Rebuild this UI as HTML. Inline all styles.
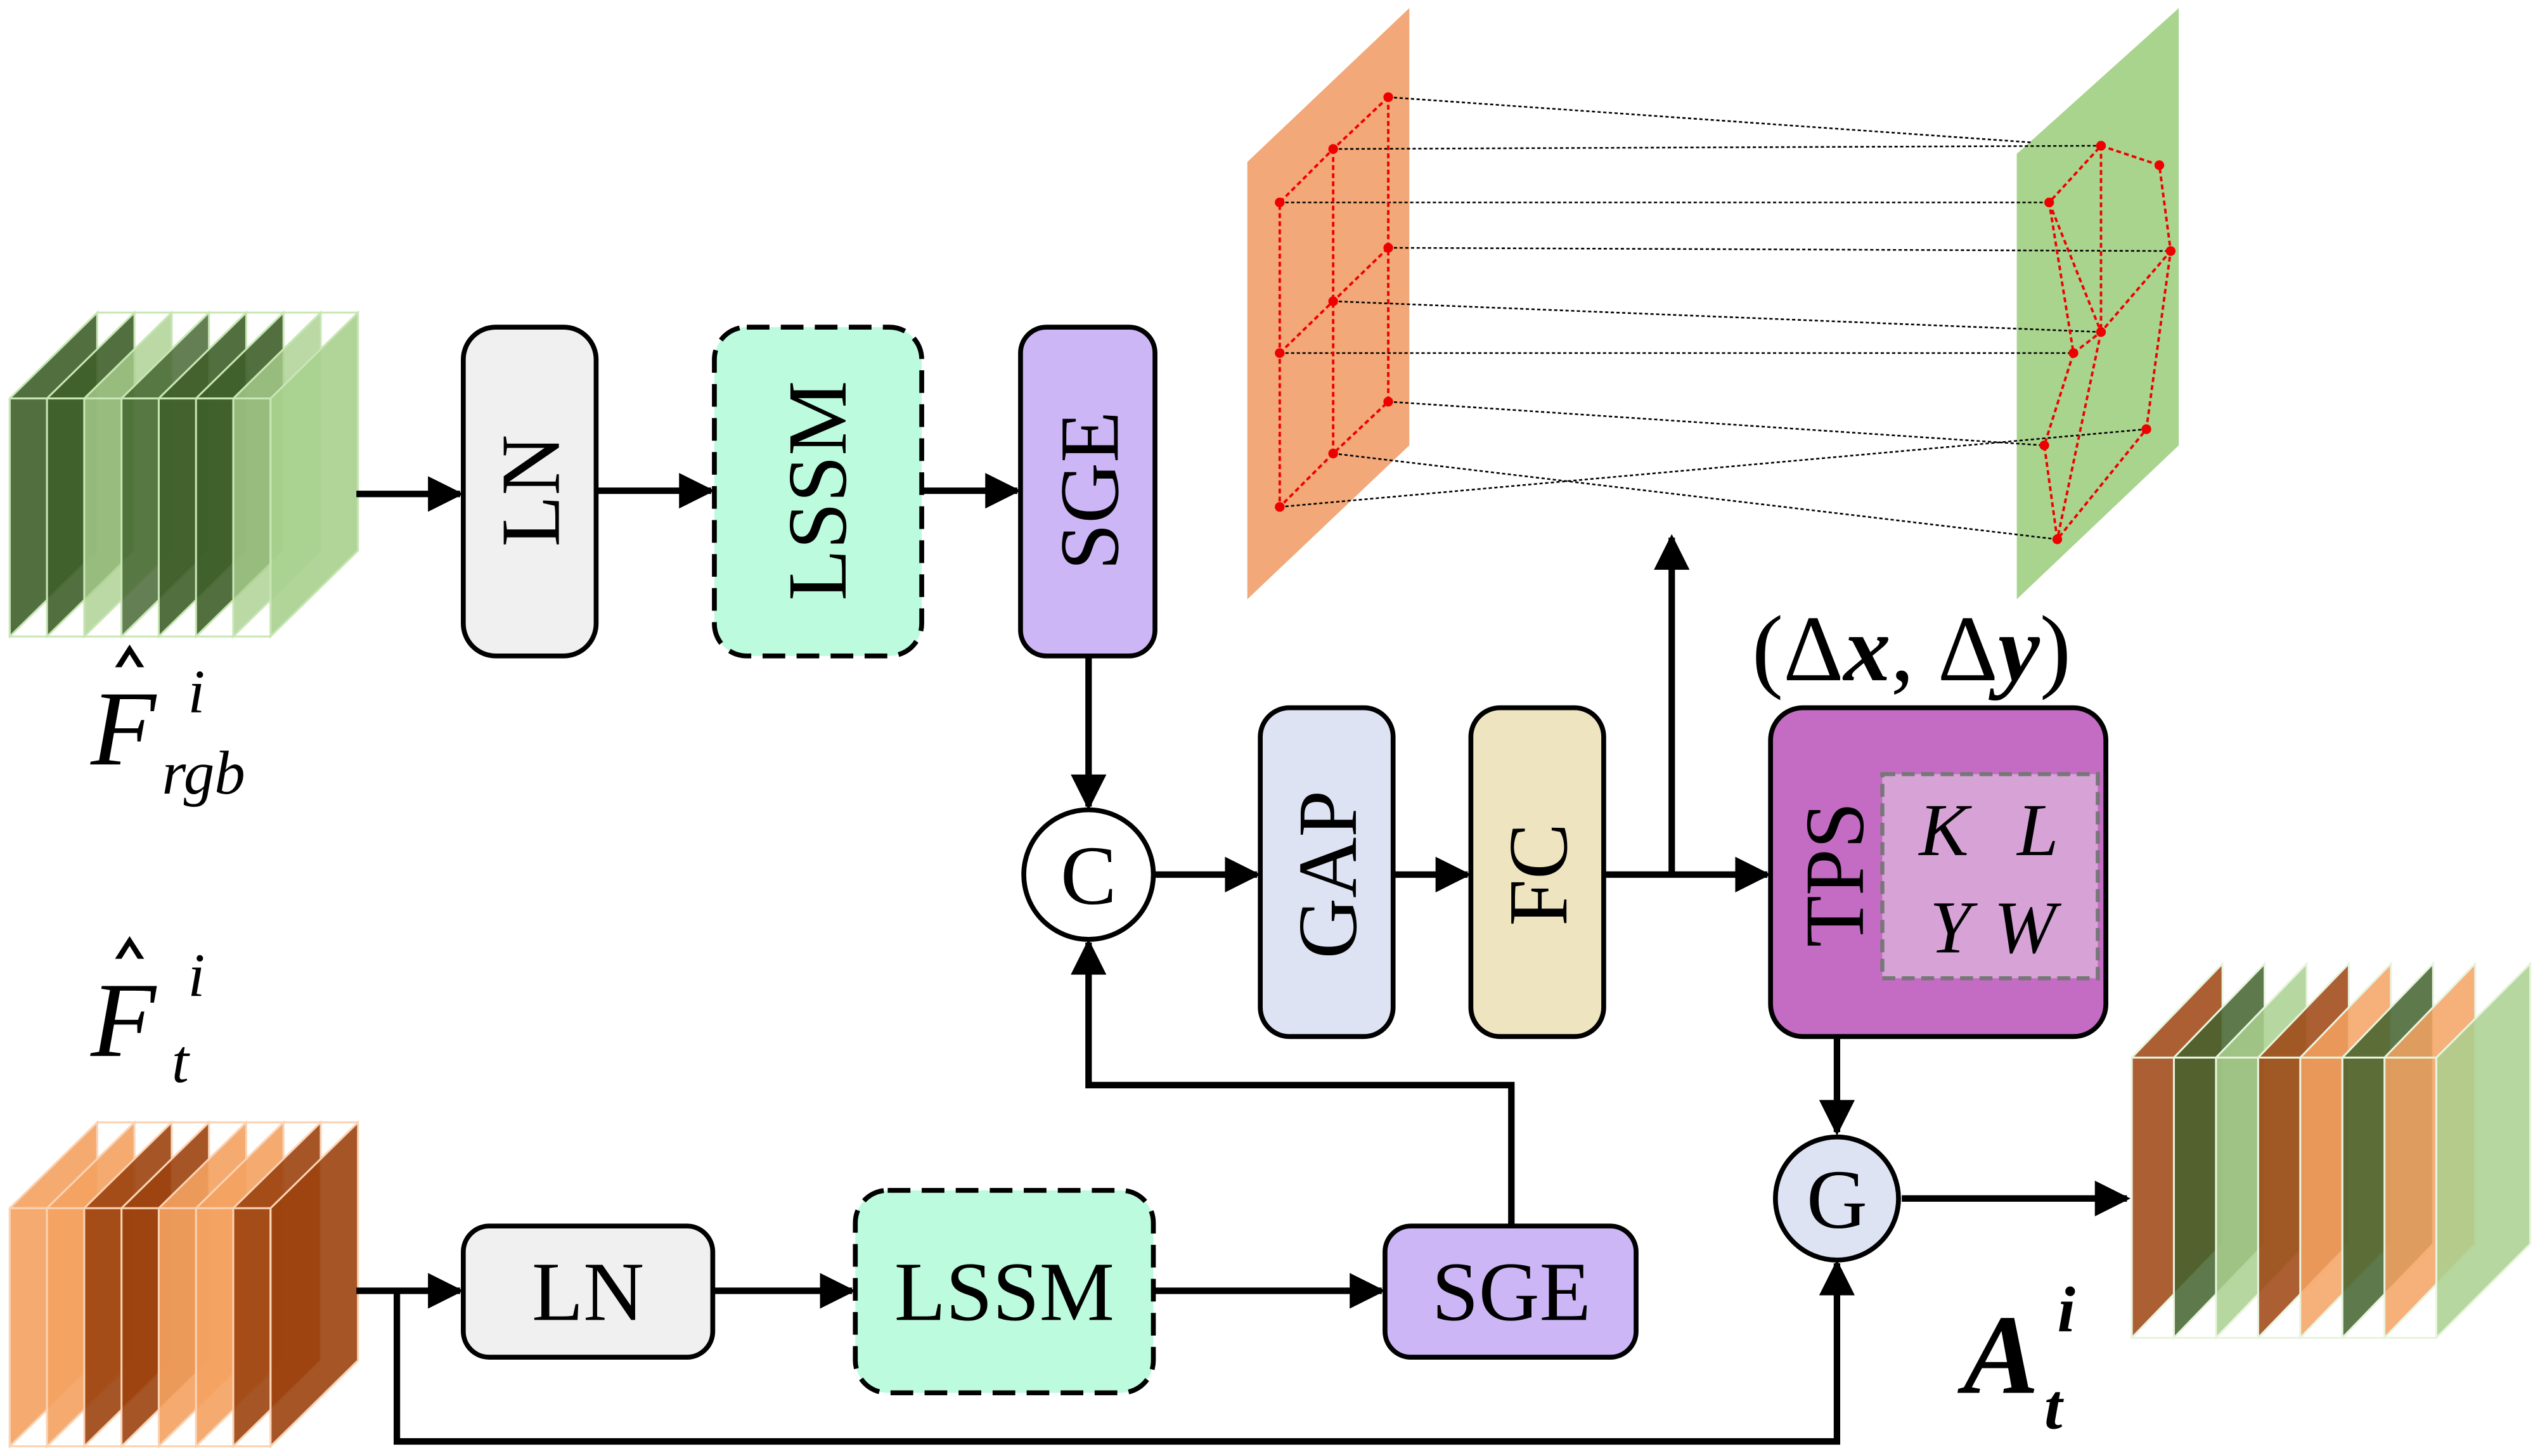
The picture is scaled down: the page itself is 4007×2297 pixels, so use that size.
<!DOCTYPE html>
<html><head><meta charset="utf-8"><style>html,body{margin:0;padding:0;background:#fff}svg{display:block}</style></head><body>
<svg width="4007" height="2297" viewBox="0 0 1568 899" preserveAspectRatio="none" xmlns="http://www.w3.org/2000/svg" font-family="Liberation Serif, serif">
<defs>
<marker id="a" viewBox="0 0 10 10" refX="9" refY="5" markerWidth="6" markerHeight="5.5" orient="auto" markerUnits="strokeWidth"><path d="M0,0L10,5L0,10z" fill="#000"/></marker>
</defs>
<g stroke="#c8e6b4" stroke-width="1.2" fill-opacity="0.9">
<polygon points="6,246 60,193 60,340 6,393" fill="#3f5f2a"/>
<polygon points="29,246 83,193 83,340 29,393" fill="#3f5f2a"/>
<polygon points="52,246 106,193 106,340 52,393" fill="#a9d08e" fill-opacity="0.8"/>
<polygon points="75,246 129,193 129,340 75,393" fill="#3f5f2a" fill-opacity="0.8"/>
<polygon points="98,246 152,193 152,340 98,393" fill="#3f5f2a"/>
<polygon points="121,246 175,193 175,340 121,393" fill="#3f5f2a"/>
<polygon points="144,246 198,193 198,340 144,393" fill="#a9d08e" fill-opacity="0.8"/>
<polygon points="167,246 221,193 221,340 167,393" fill="#a9d08e"/>
<polyline points="6,246 167,246 167,393 6,393 6,246" fill="none"/>
<line x1="60" y1="193" x2="221" y2="193"/>
</g>
<g stroke="#fbd3b4" stroke-width="1.2" fill-opacity="0.9">
<polygon points="6,746 60,693 60,840 6,893" fill="#f4a261"/>
<polygon points="29,746 83,693 83,840 29,893" fill="#f4a261"/>
<polygon points="52,746 106,693 106,840 52,893" fill="#9c430f"/>
<polygon points="75,746 129,693 129,840 75,893" fill="#9c430f"/>
<polygon points="98,746 152,693 152,840 98,893" fill="#f4a261"/>
<polygon points="121,746 175,693 175,840 121,893" fill="#f4a261"/>
<polygon points="144,746 198,693 198,840 144,893" fill="#9c430f"/>
<polygon points="167,746 221,693 221,840 167,893" fill="#9c430f"/>
<polyline points="6,746 167,746 167,893 6,893 6,746" fill="none"/>
<line x1="60" y1="693" x2="221" y2="693"/>
</g>
<g stroke="#e8f4de" stroke-width="1.2" fill-opacity="0.85">
<polygon points="1316,653 1372,595 1372,768 1316,826" fill="#9c430f"/>
<polygon points="1342,653 1398,595 1398,768 1342,826" fill="#42612d"/>
<polygon points="1368,653 1424,595 1424,768 1368,826" fill="#a9d08e"/>
<polygon points="1394,653 1450,595 1450,768 1394,826" fill="#9c430f"/>
<polygon points="1420,653 1476,595 1476,768 1420,826" fill="#f4a261"/>
<polygon points="1446,653 1502,595 1502,768 1446,826" fill="#42612d"/>
<polygon points="1472,653 1528,595 1528,768 1472,826" fill="#f4a261"/>
<polygon points="1504,653 1562,595 1562,768 1504,826" fill="#a9d08e"/>
<polyline points="1316,653 1504,653 1504,826 1316,826 1316,653" fill="none"/>
</g>
<text x="56" y="472" font-size="66" font-style="italic">F</text>
<path d="M71,412 L80,398 L89,412 L85,412 L80,404 L75,412z" fill="#000"/>
<text x="116" y="440" font-size="38" font-style="italic">i</text>
<text x="100" y="490" font-size="38" font-style="italic">rgb</text>
<text x="56" y="652" font-size="66" font-style="italic">F</text>
<path d="M71,592 L80,578 L89,592 L85,592 L80,584 L75,592z" fill="#000"/>
<text x="116" y="615" font-size="38" font-style="italic">i</text>
<text x="106" y="668" font-size="38" font-style="italic">t</text>
<text x="1212" y="860" font-size="70" font-style="italic" font-weight="bold">A</text>
<text x="1270" y="822" font-size="40" font-style="italic" font-weight="bold">i</text>
<text x="1262" y="882" font-size="40" font-style="italic" font-weight="bold">t</text>
<g stroke="#000" stroke-width="4" fill="none">
<line x1="220" y1="305" x2="284" y2="305" marker-end="url(#a)"/>
<line x1="369" y1="303" x2="439" y2="303" marker-end="url(#a)"/>
<line x1="570" y1="303" x2="628" y2="303" marker-end="url(#a)"/>
<line x1="672" y1="406" x2="672" y2="498" marker-end="url(#a)"/>
<line x1="713" y1="540" x2="776" y2="540" marker-end="url(#a)"/>
<line x1="861" y1="540" x2="906" y2="540" marker-end="url(#a)"/>
<line x1="991" y1="540" x2="1091" y2="540" marker-end="url(#a)"/>
<line x1="1032" y1="540" x2="1032" y2="332" marker-end="url(#a)"/>
<line x1="1134" y1="641" x2="1134" y2="699" marker-end="url(#a)"/>
<line x1="1174" y1="740" x2="1313" y2="740" marker-end="url(#a)"/>
<line x1="220" y1="797" x2="284" y2="797" marker-end="url(#a)"/>
<polyline points="245,797 245,890 1134,890 1134,780" marker-end="url(#a)"/>
<line x1="441" y1="797" x2="526" y2="797" marker-end="url(#a)"/>
<line x1="713" y1="797" x2="853" y2="797" marker-end="url(#a)"/>
<polyline points="933,757 933,670 672,670 672,582" marker-end="url(#a)"/>
</g>
<g stroke="#000" stroke-width="3">
<rect x="286" y="202" width="82" height="203" rx="20" fill="#f0f0f0"/>
<rect x="441" y="202" width="128" height="203" rx="20" fill="#bcfbdd" stroke-dasharray="14,7"/>
<rect x="630" y="202" width="83" height="203" rx="16" fill="#cdb6f6"/>
<circle cx="672" cy="540" r="40" fill="#fff"/>
<rect x="778" y="437" width="82" height="203" rx="18" fill="#dde3f3"/>
<rect x="908" y="437" width="82" height="203" rx="18" fill="#efe4c0"/>
<rect x="1093" y="437" width="207" height="203" rx="20" fill="#c46bc4"/>
<circle cx="1134" cy="740" r="38" fill="#dde3f3"/>
<rect x="286" y="757" width="154" height="81" rx="16" fill="#f0f0f0"/>
<rect x="528" y="735" width="184" height="125" rx="20" fill="#bcfbdd" stroke-dasharray="14,7"/>
<rect x="855" y="757" width="155" height="81" rx="16" fill="#cdb6f6"/>
</g>
<rect x="1162" y="478" width="133" height="126" fill="#d7a3d7" stroke="#777" stroke-width="2.5" stroke-dasharray="8,4"/>
<g font-size="52" text-anchor="middle">
<text transform="translate(345,303) rotate(-90)">LN</text>
<text transform="translate(522,303) rotate(-90)">LSSM</text>
<text transform="translate(690,303) rotate(-90)">SGE</text>
<text transform="translate(837,540) rotate(-90)">GAP</text>
<text transform="translate(967,540) rotate(-90)">FC</text>
<text transform="translate(1150,540) rotate(-90)">TPS</text>
<text x="672" y="558">C</text>
<text x="1134" y="758">G</text>
<text x="363" y="815">LN</text>
<text x="620" y="815">LSSM</text>
<text x="933" y="815">SGE</text>
<text x="1180" y="420" font-size="58">(Δ<tspan font-weight="bold" font-style="italic">x</tspan>, Δ<tspan font-weight="bold" font-style="italic">y</tspan>)</text>
</g>
<g font-size="46" font-style="italic" text-anchor="middle">
<text x="1200" y="528">K</text><text x="1258" y="528">L</text>
<text x="1204" y="588">Y</text><text x="1250" y="588">W</text>
</g>
<polygon points="770,100 870,5 870,275 770,370" fill="#f2a878"/>
<polygon points="1245,95 1345,5 1345,275 1245,370" fill="#a9d48e"/>
<g stroke="#000" stroke-width="1" stroke-dasharray="2,1.5">
<line x1="857" y1="60" x2="1255" y2="88"/>
<line x1="823" y1="92" x2="1297" y2="90"/>
<line x1="790" y1="125" x2="1265" y2="125"/>
<line x1="857" y1="153" x2="1340" y2="155"/>
<line x1="823" y1="186" x2="1297" y2="205"/>
<line x1="790" y1="218" x2="1280" y2="218"/>
<line x1="857" y1="248" x2="1262" y2="275"/>
<line x1="823" y1="280" x2="1270" y2="333"/>
<line x1="790" y1="313" x2="1325" y2="265"/>
</g>
<g stroke="#e00" stroke-width="1.5" stroke-dasharray="3,2" fill="none">
<polyline points="857,60 823,92 790,125 790,218 790,313 823,280 857,248 857,153 857,60"/>
<polyline points="823,92 823,186 823,280"/><polyline points="790,218 823,186 857,153"/>
<polyline points="1297,90 1333,102 1340,155 1325,265 1270,333 1262,275 1280,218 1265,125 1297,90"/>
<polyline points="1297,90 1297,205 1270,333"/><polyline points="1280,218 1297,205 1340,155"/><polyline points="1265,125 1297,205"/>
</g>
<g fill="#e00">
<circle cx="857" cy="60" r="3"/><circle cx="823" cy="92" r="3"/><circle cx="790" cy="125" r="3"/><circle cx="857" cy="153" r="3"/><circle cx="823" cy="186" r="3"/><circle cx="790" cy="218" r="3"/><circle cx="857" cy="248" r="3"/><circle cx="823" cy="280" r="3"/><circle cx="790" cy="313" r="3"/>
<circle cx="1297" cy="90" r="3"/><circle cx="1333" cy="102" r="3"/><circle cx="1265" cy="125" r="3"/><circle cx="1340" cy="155" r="3"/><circle cx="1297" cy="205" r="3"/><circle cx="1280" cy="218" r="3"/><circle cx="1262" cy="275" r="3"/><circle cx="1325" cy="265" r="3"/><circle cx="1270" cy="333" r="3"/>
</g>
</svg>
</body></html>
